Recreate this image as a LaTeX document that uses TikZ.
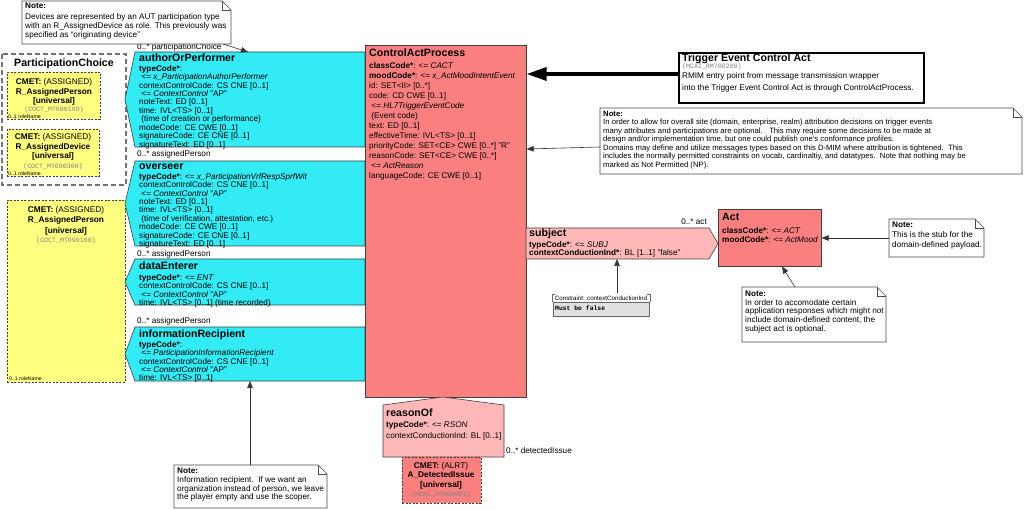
\documentclass[tikz,border=0pt]{standalone}
\usepackage{fontspec}
\setmainfont{Liberation Sans}
\newfontfamily\codefont{Liberation Mono}
\usetikzlibrary{positioning,calc,arrows.meta}

\definecolor{partcyan}{RGB}{50,235,245}
\definecolor{actred}{RGB}{250,128,128}
\definecolor{actpink}{RGB}{255,184,184}
\definecolor{roleyellow}{RGB}{255,255,128}

\tikzset{
  clsname/.style={font=\fontsize{10.6}{12}\selectfont\bfseries, anchor=base west, inner sep=0pt},
  attrs/.style={font=\fontsize{8.2}{8.45}\selectfont, anchor=north west, inner sep=0pt, align=left},
  capattrs/.style={attrs, font=\fontsize{8.2}{10}\selectfont},
  notetext/.style={font=\fontsize{8.2}{8.7}\selectfont, anchor=north west, inner sep=0pt, align=left},
  cmettext/.style={font=\fontsize{8.3}{9.6}\selectfont, anchor=north, align=center, inner sep=0pt},
  mtcode/.style={font=\codefont\fontsize{6.6}{7}\selectfont, text=black!50, inner sep=0pt},
  rolename/.style={font=\fontsize{5.2}{6}\selectfont, anchor=south west, inner sep=0pt},
  assoc/.style={font=\fontsize{8.2}{9}\selectfont, anchor=west, inner sep=0pt},
  notearrow/.style={-{Triangle[length=7pt,width=5.5pt]}, line width=0.6pt, black!80},
  bigarrow/.style={-{Triangle[length=20pt,width=13pt]}, line width=3.5pt, black},
  notebox/.style={draw=black!70, fill=white, line width=0.6pt},
  partshape/.style={draw=black!75, fill=partcyan, line width=0.6pt},
  actbox/.style={draw=black!75, fill=actred, line width=0.6pt, anchor=north west, inner sep=0pt},
  cmetbox/.style={draw=black!75, dash pattern=on 2pt off 1.5pt, line width=0.6pt, anchor=north west, inner sep=0pt},
}

% note outline with folded corner: x1, y1, x2, y2
\newcommand{\notefold}[4]{%
  \draw[notebox] (#1,#2) -- ({#3-9},#2) -- (#3,{#2+9}) -- (#3,#4) -- (#1,#4) -- cycle;
  \draw[black!70, line width=0.6pt] ({#3-9},#2) -- ({#3-9},{#2+9}) -- (#3,{#2+9});}

\begin{document}
\begin{tikzpicture}[x=1pt,y=-1pt]
  \useasboundingbox[fill=white] (0,0) rectangle (1024,510);

  % Participation choice
  \draw[black!55, line width=1.2pt, dash pattern=on 5pt off 3pt] (2,54) rectangle (126,185);
  \node[clsname, anchor=base] (pchoice) at (64,67) {ParticipationChoice};
  \node[cmetbox, fill=roleyellow, minimum width=93pt, minimum height=47pt] (rolePerson) at (7,72) {};
  \node[cmettext] (rolePersonTxt) at (54,78.5) {\textbf{CMET:} (ASSIGNED)\\\textbf{R\_AssignedPerson}\\\textbf{[universal]}};
  \node[mtcode] (rolePersonId) at (54,110) {(COCT\_MT090100)};
  \node[rolename] (rolePersonRn) at (8,119) {0..1 roleName};
  \node[cmetbox, fill=roleyellow, minimum width=92pt, minimum height=47pt] (roleDevice) at (7,129) {};
  \node[cmettext] (roleDeviceTxt) at (53,133.5) {\textbf{CMET:} (ASSIGNED)\\\textbf{R\_AssignedDevice}\\\textbf{[universal]}};
  \node[mtcode] (roleDeviceId) at (53,167) {(COCT\_MT090300)};
  \node[rolename] (roleDeviceRn) at (8,176) {0..1 roleName};

  % Assigned person for the other participations
  \node[cmetbox, fill=roleyellow, minimum width=118pt, minimum height=182pt] (rolePerson2) at (7,200) {};
  \node[cmettext, font=\fontsize{8.3}{10.5}\selectfont] (rolePerson2Txt) at (66,206) {\textbf{CMET:} (ASSIGNED)\\\textbf{R\_AssignedPerson}\\\textbf{[universal]}};
  \node[mtcode] (rolePerson2Id) at (66,241) {(COCT\_MT090100)};
  \node[rolename] (rolePerson2Rn) at (9,381) {0..1 roleName};

  % Participations
  \draw[partshape] (135,52) -- (365,52) -- (365,147) -- (135,147) -- (125,99.5) -- cycle;
  \node[clsname] (aop) at (139,62) {authorOrPerformer};
  \node[attrs] (aopAttr) at (139,65) {\textbf{typeCode*}:\\\ <= \textit{x\_ParticipationAuthorPerformer}\\contextControlCode: CS CNE [0..1]\\\ <= \textit{ContextControl} "AP"\\noteText: ED [0..1]\\time: IVL<TS> [0..1]\\\ (time of creation or performance)\\modeCode: CE CWE [0..1]\\signatureCode: CE CNE [0..1]\\signatureText: ED [0..1]};
  \node[assoc] (aopLbl) at (137,47) {0..* participationChoice};

  \draw[partshape] (135,161) -- (365,161) -- (365,246) -- (135,246) -- (125,203.5) -- cycle;
  \node[clsname] (ovs) at (139,169.5) {overseer};
  \node[attrs] (ovsAttr) at (139,173) {\textbf{typeCode*}: <= \textit{x\_ParticipationVrfRespSprfWit}\\contextControlCode: CS CNE [0..1]\\\ <= \textit{ContextControl} "AP"\\noteText: ED [0..1]\\time: IVL<TS> [0..1]\\\ (time of verification, attestation, etc.)\\modeCode: CE CWE [0..1]\\signatureCode: CE CNE [0..1]\\signatureText: ED [0..1]};
  \node[assoc] (ovsLbl) at (137,154) {0..* assignedPerson};

  \draw[partshape] (135,259) -- (365,259) -- (365,305) -- (135,305) -- (125,282) -- cycle;
  \node[clsname] (ent) at (139,269.5) {dataEnterer};
  \node[attrs] (entAttr) at (139,274) {\textbf{typeCode*}: <= \textit{ENT}\\contextControlCode: CS CNE [0..1]\\\ <= \textit{ContextControl} "AP"\\time: IVL<TS> [0..1] (time recorded)};
  \node[assoc] (entLbl) at (137,254) {0..* assignedPerson};

  \draw[partshape] (135,327) -- (365,327) -- (365,381) -- (135,381) -- (125,354) -- cycle;
  \node[clsname] (irc) at (139,337) {informationRecipient};
  \node[attrs] (ircAttr) at (139,341) {\textbf{typeCode*}:\\\ <= \textit{ParticipationInformationRecipient}\\contextControlCode: CS CNE [0..1]\\\ <= \textit{ContextControl} "AP"\\time: IVL<TS> [0..1]};
  \node[assoc] (ircLbl) at (137,321) {0..* assignedPerson};
  \coordinate (aopTop) at (248,52);
  \coordinate (ircFoot) at (250,381);

  % Control act
  \node[actbox, minimum width=161pt, minimum height=352pt] (cap) at (365,45) {};
  \node[clsname] (capName) at (369,57) {ControlActProcess};
  \node[capattrs] (capAttr) at (369,62.5) {\textbf{classCode*}: <= \textit{CACT}\\\textbf{moodCode*}: <= \textit{x\_ActMoodIntentEvent}\\id: SET<II> [0..*]\\code: CD CWE [0..1]\\\ <= \textit{HL7TriggerEventCode}\\\ (Event code)\\text: ED [0..1]\\effectiveTime: IVL<TS> [0..1]\\priorityCode: SET<CE> CWE [0..*] "R"\\reasonCode: SET<CE> CWE [0..*]\\\ <= \textit{ActReason}\\languageCode: CE CWE [0..1]};

  % Entry point
  \node[draw=black, line width=2pt, fill=white, minimum width=245pt, minimum height=50pt, anchor=north west, inner sep=0pt] (trigger) at (678,52) {};
  \node[clsname] (triggerName) at (682,61.5) {Trigger Event Control Act};
  \node[mtcode, anchor=west] (triggerId) at (682,66.5) {(MCAI\_RM700200)};
  \node[notetext, font=\fontsize{8.2}{12}\selectfont] (triggerTxt) at (682,72.5) {RMIM entry point from message transmission wrapper\\into the Trigger Event Control Act is through ControlActProcess.};
  \draw[bigarrow] ([yshift=4pt]trigger.west) -- ([yshift=4pt]trigger.west -| cap.east);

  % Note on optionality
  \notefold{600}{108}{1022}{174}
  \node[notetext, font=\fontsize{7.7}{8.45}\selectfont] (noteOptTxt) at (603,111) {\textbf{Note:}\\In order to allow for overall site (domain, enterprise, realm) attribution decisions on trigger events\\many attributes and participations are optional.\ \ \ This may require some decisions to be made at\\design and/or implementation time, but one could publish one's conformance profiles.\\Domains may define and utilize messages types based on this D-MIM where attribution is tightened.\ \ This\\includes the normally permitted constraints on vocab, cardinaltiy, and datatypes.\ \ Note that nothing may be\\marked as Not Permitted (NP).};
  \coordinate (noteOpt) at (600,147);
  \draw[notearrow] (noteOpt) -- ($(cap.north east)+(0,104)$);

  % Subject
  \draw[partshape, fill=actpink] (526,228) -- (709,228) -- (718,243.5) -- (709,259) -- (526,259) -- cycle;
  \node[clsname] (subj) at (529,236.5) {subject};
  \node[attrs] (subjAttr) at (529,241) {\textbf{typeCode*}: <= \textit{SUBJ}\\\textbf{contextConductionInd*}: BL [1..1] "false"};
  \node[assoc, anchor=east] (subjLbl) at (707,222) {0..* act};
  \coordinate (subjFoot) at (617,259);

  \node[actbox, minimum width=103pt, minimum height=57pt] (act) at (718,209) {};
  \node[clsname] (actName) at (722,221) {Act};
  \node[attrs, font=\fontsize{8.2}{9.5}\selectfont] (actAttr) at (722,227) {\textbf{classCode*}: <= \textit{ACT}\\\textbf{moodCode*}: <= \textit{ActMood}};

  % Constraint
  \node[font=\fontsize{6.2}{8}\selectfont, inner sep=0pt] (cnstHead) at (601,298) {Constraint: contextConductionInd};
  \node[draw=black!60, fill=black!12, minimum width=96pt, minimum height=14pt, anchor=north west, inner sep=0pt] (cnst) at (553,302) {};
  \node[font=\codefont\bfseries\fontsize{6.4}{7}\selectfont, anchor=west, inner sep=0pt] (cnstBody) at (555,308.5) {Must be false};
  \draw[black!60] (555,294) -- (552,294) -- (552,302);
  \draw[black!60] (647,294) -- (650,294) -- (650,302);
  \coordinate (cnstTop) at (617,293);
  \draw[notearrow] (cnstTop) -- (subjFoot);

  % Notes on the act
  \notefold{889}{219}{984}{257}
  \node[notetext, font=\fontsize{8.2}{10}\selectfont] (noteStubTxt) at (892,222) {\textbf{Note:}\\This is the stub for the\\domain-defined payload.};
  \coordinate (noteStub) at (889,238);
  \draw[notearrow] (noteStub) -- (noteStub -| act.east);

  \notefold{742}{287}{886}{342}
  \node[notetext] (noteAccomTxt) at (745,290.5) {\textbf{Note:}\\In order to accomodate certain\\application responses which might not\\include domain-defined content, the\\subject act is optional.};
  \coordinate (noteAccom) at (795,287);
  \draw[notearrow] (noteAccom) -- ($(act.south west)+(64,0)$);

  % Reason
  \draw[partshape, fill=actpink] (383,405) -- (443,397) -- (504,405) -- (504,457) -- (383,457) -- cycle;
  \node[clsname] (rsn) at (386,416) {reasonOf};
  \node[attrs, font=\fontsize{8.2}{11}\selectfont] (rsnAttr) at (386,421) {\textbf{typeCode*}: <= \textit{RSON}\\contextConductionInd: BL [0..1]};
  \node[assoc] (rsnLbl) at (506,451) {0..* detectedIssue};
  \node[cmetbox, fill=actred, minimum width=79pt, minimum height=46pt] (issue) at (402,457) {};
  \node[cmettext] (issueTxt) at (441,462) {\textbf{CMET:} (ALRT)\\\textbf{A\_DetectedIssue}\\\textbf{[universal]}};
  \node[mtcode] (issueId) at (441,495) {(MCAI\_MT900001)};

  % Note on the recipient
  \notefold{174}{465}{327}{508}
  \node[notetext] (noteIrcTxt) at (177,468) {\textbf{Note:}\\Information recipient.\ \ If we want an\\organization instead of person, we leave\\the player empty and use the scoper.};
  \coordinate (noteIrc) at (250,465);
  \draw[notearrow] (noteIrc) -- (ircFoot);

  % Note on devices
  \notefold{22}{1}{231}{44}
  \node[notetext, font=\fontsize{8.2}{9}\selectfont] (noteDevTxt) at (25,3) {\textbf{Note:}\\[2pt]Devices are represented by an AUT participation type\\with an R\_AssignedDevice as role. This previously was\\specified as ``originating device''};
  \coordinate (noteDev) at (223,44);
  \draw[notearrow] (noteDev) -- (aopTop);
\end{tikzpicture}
\end{document}
